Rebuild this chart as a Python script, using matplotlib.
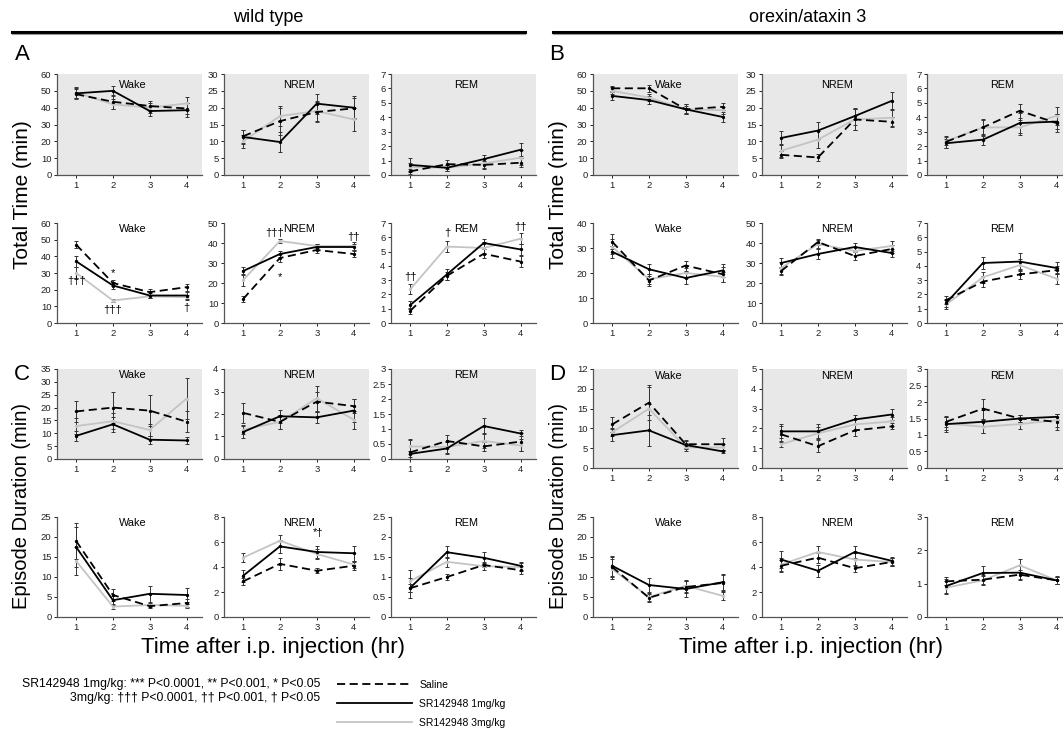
import numpy as np
import matplotlib.pyplot as plt
from matplotlib.lines import Line2D

plt.rcParams['font.family'] = ['Liberation Sans', 'DejaVu Sans']
plt.rcParams['axes.unicode_minus'] = False

# ---------------- data ----------------
hours = [1, 2, 3, 4]
series_labels = ['Saline', 'SR142948 1mg/kg', 'SR142948 3mg/kg']
states = ['Wake', 'NREM', 'REM']

# wild type -- total time, first block (A top)
wt_a1_wake = [[48, 43.5, 41, 39.5], [48.5, 50, 38, 38.5], [49, 42, 40, 42.5]]
wt_a1_wake_err = [[3, 4, 3, 3], [3, 3, 3, 4], [3, 3, 3, 4]]
wt_a1_nrem = [[11.5, 16, 18.7, 19.8], [11.3, 9.8, 21.2, 20], [10, 17.5, 19, 16.5]]
wt_a1_nrem_err = [[2, 4, 3, 3], [2, 3, 3, 3.5], [2, 3, 3, 3.5]]
wt_a1_rem = [[0.25, 0.75, 0.7, 0.85], [0.7, 0.5, 1.1, 1.75], [0.55, 0.5, 0.8, 1.2]]
wt_a1_rem_err = [[0.2, 0.3, 0.3, 0.3], [0.5, 0.2, 0.3, 0.45], [0.3, 0.2, 0.3, 0.5]]

# wild type -- total time, second block (A bottom)
wt_a2_wake = [[47, 24, 18.5, 21.5], [37, 22.5, 16.5, 16.5], [30, 13.5, 16, 15.5]]
wt_a2_wake_err = [[2, 2, 2, 2], [3.5, 2, 1.5, 2], [3.5, 1, 1, 1.5]]
wt_a2_nrem = [[12, 32.5, 36.5, 34.5], [26, 34.5, 38, 38], [21.5, 41, 38.5, 38.5]]
wt_a2_nrem_err = [[1.5, 2, 1.5, 1.5], [2, 1.5, 1.5, 1.5], [3, 1, 1, 2]]
wt_a2_rem = [[0.85, 3.3, 4.85, 4.3], [1.25, 3.4, 5.6, 5.15], [2.35, 5.35, 5.25, 5.9]]
wt_a2_rem_err = [[0.2, 0.3, 0.3, 0.4], [0.3, 0.4, 0.3, 0.4], [0.35, 0.4, 0.4, 0.4]]

# wild type -- episode duration, first block (C top)
wt_c1_wake = [[18.5, 20, 18.8, 14.5], [9, 13.5, 7.5, 7.2], [12.8, 14.7, 11.3, 23.5]]
wt_c1_wake_err = [[4, 6, 6, 4], [2, 3, 1.5, 1.5], [3, 3, 2.5, 8]]
wt_c1_nrem = [[2.05, 1.65, 2.55, 2.35], [1.2, 1.9, 1.85, 2.15], [1.3, 1.65, 2.7, 1.75]]
wt_c1_nrem_err = [[0.45, 0.3, 0.45, 0.3], [0.25, 0.3, 0.25, 0.5], [0.2, 0.3, 0.55, 0.4]]
wt_c1_rem = [[0.22, 0.6, 0.42, 0.58], [0.17, 0.35, 1.1, 0.85], [0.42, 0.4, 0.6, 0.45]]
wt_c1_rem_err = [[0.4, 0.2, 0.15, 0.3], [0.1, 0.2, 0.27, 0.1], [0.25, 0.2, 0.25, 0.2]]

# wild type -- episode duration, second block (C bottom)
wt_c2_wake = [[19, 5.5, 2.7, 3.5], [17.5, 4.2, 5.8, 5.5], [14, 2.6, 3, 2.8]]
wt_c2_wake_err = [[4.5, 1.5, 0.5, 1], [5, 1, 2, 1.8], [3.5, 0.5, 0.5, 0.5]]
wt_c2_nrem = [[2.85, 4.25, 3.7, 4.1], [3.3, 5.65, 5.2, 5.1], [4.75, 6.1, 5.05, 4.2]]
wt_c2_nrem_err = [[0.3, 0.45, 0.2, 0.3], [0.5, 0.5, 0.5, 0.6], [0.35, 0.5, 0.4, 0.3]]
wt_c2_rem = [[0.72, 1.0, 1.3, 1.17], [0.73, 1.62, 1.48, 1.28], [0.9, 1.38, 1.27, 1.25]]
wt_c2_rem_err = [[0.1, 0.08, 0.05, 0.1], [0.25, 0.15, 0.15, 0.1], [0.28, 0.12, 0.1, 0.1]]

# orexin/ataxin 3 -- total time, first block (B top)
ox_b1_wake = [[51.5, 51.5, 39, 40.5], [47, 44.5, 39, 34.5], [50, 46, 39, 38.5]]
ox_b1_wake_err = [[1.5, 2, 3, 2], [2.5, 2.5, 3, 3], [2, 2, 2, 2]]
ox_b1_nrem = [[6, 5.2, 16.5, 15.8], [11, 13.2, 17.5, 22], [7.2, 10.5, 16.5, 17]]
ox_b1_nrem_err = [[1, 1, 3, 1.5], [2, 2.5, 2.5, 2.8], [2, 2.5, 3, 2.5]]
ox_b1_rem = [[2.3, 3.3, 4.45, 3.6], [2.2, 2.45, 3.6, 3.7], [2.35, 3.3, 3.3, 4.1]]
ox_b1_rem_err = [[0.4, 0.6, 0.5, 0.6], [0.3, 0.4, 0.7, 0.5], [0.3, 0.5, 0.5, 0.6]]

# orexin/ataxin 3 -- total time, second block (B bottom)
ox_b2_wake = [[32.5, 17, 23, 19.5], [28.5, 21.5, 18, 21], [30.5, 17.5, 20, 18.5]]
ox_b2_wake_err = [[3, 2, 2, 3], [2.5, 2, 2.5, 2.5], [3, 2, 2, 2]]
ox_b2_nrem = [[26, 40.5, 33.5, 37], [30, 34.5, 38, 35], [27.5, 39.5, 36, 38.5]]
ox_b2_nrem_err = [[2, 1.5, 2, 2], [2.5, 2.5, 2, 2], [3, 2, 2, 2.5]]
ox_b2_rem = [[1.6, 2.9, 3.4, 3.7], [1.4, 4.2, 4.3, 3.85], [1.3, 3.2, 4.05, 3.1]]
ox_b2_rem_err = [[0.3, 0.4, 0.35, 0.3], [0.3, 0.45, 0.6, 0.4], [0.3, 0.4, 0.4, 0.4]]

# orexin/ataxin 3 -- episode duration, first block (D top)
ox_d1_wake = [[11, 16.5, 6, 6], [8.3, 9.5, 5.8, 4.2], [9, 15, 5.2, 5.2]]
ox_d1_wake_err = [[1.8, 4.5, 1, 1.5], [1.5, 4, 1, 0.4], [1, 5.5, 0.8, 0.8]]
ox_d1_nrem = [[1.7, 1.1, 1.9, 2.1], [1.85, 1.85, 2.45, 2.7], [1.2, 1.75, 2.2, 2.35]]
ox_d1_nrem_err = [[0.4, 0.3, 0.3, 0.15], [0.35, 0.35, 0.25, 0.3], [0.15, 0.3, 0.3, 0.25]]
ox_d1_rem = [[1.4, 1.8, 1.5, 1.4], [1.33, 1.4, 1.5, 1.55], [1.35, 1.25, 1.33, 1.45]]
ox_d1_rem_err = [[0.15, 0.3, 0.1, 0.25], [0.25, 0.35, 0.12, 0.1], [0.2, 0.2, 0.15, 0.2]]

# orexin/ataxin 3 -- episode duration, second block (D bottom)
ox_d2_wake = [[12.5, 4.8, 7.5, 8.5], [12.8, 8, 7, 8.7], [12, 5, 7.8, 5.3]]
ox_d2_wake_err = [[2.5, 1, 1.5, 2], [2.5, 1.7, 2, 2], [2.5, 1, 1.5, 1]]
ox_d2_nrem = [[4.1, 4.75, 3.9, 4.4], [4.6, 3.7, 5.2, 4.5], [4.2, 5.2, 4.6, 4.4]]
ox_d2_nrem_err = [[0.5, 0.4, 0.3, 0.3], [0.7, 0.5, 0.45, 0.3], [0.5, 0.45, 0.5, 0.3]]
ox_d2_rem = [[1.07, 1.12, 1.27, 1.1], [0.93, 1.32, 1.33, 1.1], [0.88, 1.1, 1.55, 1.1]]
ox_d2_rem_err = [[0.12, 0.12, 0.15, 0.1], [0.2, 0.2, 0.2, 0.1], [0.2, 0.15, 0.2, 0.12]]

# y axis ranges / tick steps per row
wt_ymax = [[60, 30, 7], [60, 50, 7], [35, 4, 3], [25, 8, 2.5]]
wt_ystep = [[10, 5, 1], [10, 10, 1], [5, 1, 0.5], [5, 2, 0.5]]
ox_ymax = [[60, 30, 7], [40, 50, 7], [25, 5, 3], [25, 8, 3]]
ox_ystep = [[10, 5, 1], [10, 10, 1], [5, 1, 0.5], [5, 2, 1]]

# significance marks: (row, col, hour, value, text)
wt_marks = [(1, 0, 1, 25, '†††'), (1, 0, 2, 30, '*'), (1, 0, 2, 8, '†††'), (1, 0, 4, 9, '†'),
            (1, 1, 1.85, 45, '†††'), (1, 1, 2, 23, '*'), (1, 1, 4, 43, '††'),
            (1, 2, 1, 3.2, '††'), (1, 2, 2, 6.3, '†'), (1, 2, 4, 6.75, '††'),
            (3, 1, 3.05, 6.75, '*†')]

wt_means = [[wt_a1_wake, wt_a1_nrem, wt_a1_rem], [wt_a2_wake, wt_a2_nrem, wt_a2_rem],
            [wt_c1_wake, wt_c1_nrem, wt_c1_rem], [wt_c2_wake, wt_c2_nrem, wt_c2_rem]]
wt_errs = [[wt_a1_wake_err, wt_a1_nrem_err, wt_a1_rem_err], [wt_a2_wake_err, wt_a2_nrem_err, wt_a2_rem_err],
           [wt_c1_wake_err, wt_c1_nrem_err, wt_c1_rem_err], [wt_c2_wake_err, wt_c2_nrem_err, wt_c2_rem_err]]
ox_means = [[ox_b1_wake, ox_b1_nrem, ox_b1_rem], [ox_b2_wake, ox_b2_nrem, ox_b2_rem],
            [ox_d1_wake, ox_d1_nrem, ox_d1_rem], [ox_d2_wake, ox_d2_nrem, ox_d2_rem]]
ox_errs = [[ox_b1_wake_err, ox_b1_nrem_err, ox_b1_rem_err], [ox_b2_wake_err, ox_b2_nrem_err, ox_b2_rem_err],
           [ox_d1_wake_err, ox_d1_nrem_err, ox_d1_rem_err], [ox_d2_wake_err, ox_d2_nrem_err, ox_d2_rem_err]]

# ---------------- layout ----------------
W, H = 1063, 733
fig = plt.figure(figsize=(W / 100, H / 100), dpi=100)


def px_box(x0, y0, x1, y1):
    return [x0 / W, 1 - y1 / H, (x1 - x0) / W, (y1 - y0) / H]


styles = [dict(color='black', ls=(0, (4.5, 2.5))),
          dict(color='black', ls='-'),
          dict(color='#c4c4c4', ls='-')]
draw_order = [2, 0, 1]
gray_bg = '#e8e8e8'

col_x = {'wt': [57, 224, 391], 'ox': [593, 762, 927]}
row_y = {'wt': [(74, 175), (223, 323), (369, 459), (517, 617)],
         'ox': [(74, 175), (223, 323), (369, 468), (517, 617)]}
title_y = [0.89, 0.94, 0.93, 0.94]


def draw_group(key, means, errs, ymax, ystep, marks):
    for r in range(4):
        for c in range(3):
            y0, y1 = row_y[key][r]
            x0 = col_x[key][c]
            ax = fig.add_axes(px_box(x0, y0, x0 + 145, y1))
            ax.set_facecolor(gray_bg if r % 2 == 0 else 'white')
            for s in draw_order:
                ax.errorbar(hours, means[r][c][s], yerr=errs[r][c][s], lw=1.3,
                            elinewidth=0.7, capsize=1.6, capthick=0.7, ecolor='#333333',
                            marker='o', ms=1.4, **styles[s])
            ax.set_xlim(0.48, 4.42)
            ax.set_ylim(0, ymax[r][c])
            ticks = np.arange(0, ymax[r][c] + 1e-9, ystep[r][c])
            ax.set_yticks(ticks)
            labels = ['%g' % t for t in ticks]
            if key == 'ox' and r == 2 and c == 0:
                labels[-1] = '12'   # as printed in the original
            ax.set_yticklabels(labels)
            ax.set_xticks(hours)
            for sp in ['top', 'right']:
                ax.spines[sp].set_visible(False)
            for sp in ['left', 'bottom']:
                ax.spines[sp].set_color('#555555')
                ax.spines[sp].set_linewidth(0.9)
            ax.tick_params(labelsize=6.8, length=2.5, width=0.7, pad=1.5, colors='#222222')
            ax.text(0.52, title_y[r], states[c], transform=ax.transAxes, ha='center',
                    va='center', fontsize=7.8)
            for mr, mc, hx, hy, txt in marks:
                if mr == r and mc == c:
                    ax.text(hx, hy, txt, ha='center', va='center', fontsize=8)


draw_group('wt', wt_means, wt_errs, wt_ymax, wt_ystep, wt_marks)
draw_group('ox', ox_means, ox_errs, ox_ymax, ox_ystep, [])

# group headers with double rule
fig.text(268 / W, 1 - 17 / H, 'wild type', ha='center', va='center', fontsize=13,
         family=['Liberation Sans Narrow', 'Liberation Sans'])
fig.text(808 / W, 1 - 17 / H, 'orexin/ataxin 3', ha='center', va='center', fontsize=13,
         family=['Liberation Sans Narrow', 'Liberation Sans'])
for xa, xb in [(12, 525), (553, 1063)]:
    fig.add_artist(Line2D([xa / W, xb / W], [1 - 31.5 / H] * 2, color='black', lw=2.2))
    fig.add_artist(Line2D([xa / W, xb / W], [1 - 34 / H] * 2, color='#9a9a9a', lw=0.8))

# panel letters
for lx, ly, letter in [(22, 55, 'A'), (557, 55, 'B'), (22, 375, 'C'), (557, 375, 'D')]:
    fig.text(lx / W, 1 - ly / H, letter, ha='center', va='center', fontsize=16)

# axis titles
for lx in [22, 558]:
    fig.text(lx / W, 1 - 195 / H, 'Total Time (min)', rotation=90, ha='center',
             va='center', fontsize=15)
    fig.text(lx / W, 1 - 506 / H, 'Episode Duration (min)', rotation=90, ha='center',
             va='center', fontsize=14.5)
for cx in [273, 811]:
    fig.text(cx / W, 1 - 647 / H, 'Time after i.p. injection (hr)', ha='center',
             va='center', fontsize=16)

# significance key and line legend
fig.text(320 / W, 1 - 684 / H, 'SR142948 1mg/kg: *** P<0.0001, ** P<0.001, * P<0.05',
         ha='right', va='center', fontsize=8.8)
fig.text(320 / W, 1 - 698 / H, '3mg/kg: ††† P<0.0001, †† P<0.001, † P<0.05',
         ha='right', va='center', fontsize=8.8)
handles = [Line2D([], [], lw=1.3, **styles[s]) for s in range(3)]
fig.legend(handles, series_labels, loc='upper left', bbox_to_anchor=(337 / W, 1 - 680 / H),
           frameon=False, fontsize=7.5, handlelength=7.2, handletextpad=0.7,
           labelspacing=0.85, borderpad=0, borderaxespad=0)

fig.savefig('out.png', dpi=100)
